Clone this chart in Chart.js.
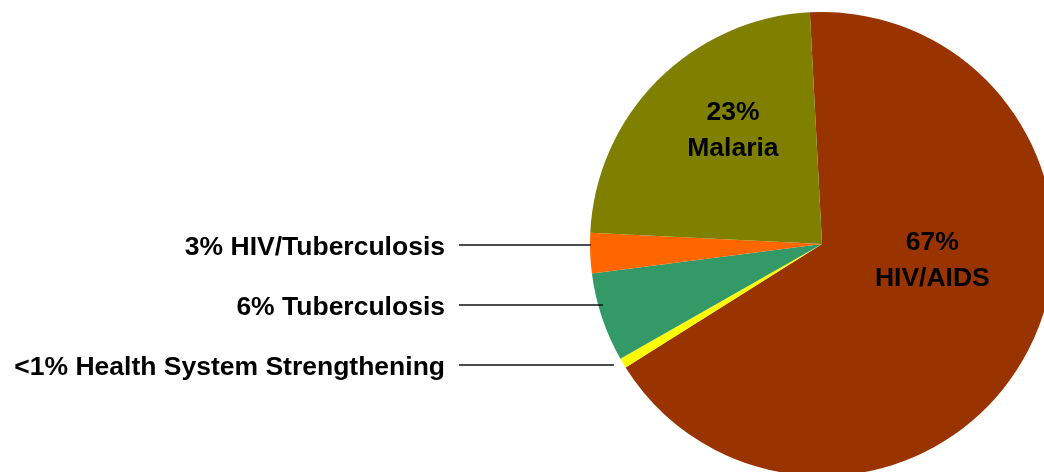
<!DOCTYPE html>
<html><head><meta charset="utf-8">
<script src="https://cdn.jsdelivr.net/npm/chart.js@4"></script>
<style>
html,body{margin:0;padding:0;background:#fff;overflow:hidden;width:1044px;height:472px}
#wrap{position:absolute;left:0;top:0;width:1100px;height:520px}
</style></head>
<body><div id="wrap"><canvas id="c" width="1100" height="520" style="width:1100px;height:520px"></canvas></div>
<script>
// ---- data ----
const categories = ['HIV/AIDS', 'Health System Strengthening', 'Tuberculosis', 'HIV/Tuberculosis', 'Malaria'];
const values = [66.9, 0.7, 6.2, 2.8, 23.4];
const percentLabels = ['67%', '<1%', '6%', '3%', '23%'];
const colors = ['#993300', '#FFFF00', '#339966', '#FF6600', '#808000'];

// ---- label layout (annotation placement, not data) ----
const insideLabels = [ // slice index, fraction along slice, fraction of radius
  {i: 0, f: 0.418, d: 0.48},
  {i: 4, f: 0.59, d: 0.63}
];
const outsideLabels = [ // slice index, row offset (x radius), leader end (x radius)
  {i: 3, row: 0.004, end: 0.996},
  {i: 2, row: 0.263, end: 0.944},
  {i: 1, row: 0.522, end: 0.897}
];
const TEXT_RIGHT = 445, LINE_START = 459;
const FONT = 'bold 26.5px "Liberation Sans", Arial, sans-serif';

const labelPlugin = {
  id: 'labels',
  afterDatasetsDraw(chart) {
    const ctx = chart.ctx;
    const arcs = chart.getDatasetMeta(0).data;
    ctx.save();
    ctx.font = FONT;
    ctx.fillStyle = '#000';
    ctx.textBaseline = 'alphabetic';
    insideLabels.forEach(l => {
      const a = arcs[l.i].getProps(['x', 'y', 'startAngle', 'endAngle', 'outerRadius'], true);
      const ang = a.startAngle + l.f * (a.endAngle - a.startAngle);
      const px = a.x + Math.cos(ang) * a.outerRadius * l.d;
      const py = a.y + Math.sin(ang) * a.outerRadius * l.d;
      ctx.textAlign = 'center';
      ctx.fillText(percentLabels[l.i], px, py - 18 + 9.5);
      ctx.fillText(categories[l.i], px, py + 18 + 9.5);
    });
    outsideLabels.forEach(l => {
      const a = arcs[l.i].getProps(['x', 'y', 'outerRadius'], true);
      const y = Math.round(a.y + a.outerRadius * l.row);
      const xe = a.x - a.outerRadius * l.end;
      ctx.textAlign = 'right';
      ctx.fillText(percentLabels[l.i] + ' ' + categories[l.i], TEXT_RIGHT, y + 9.5);
      ctx.beginPath();
      ctx.strokeStyle = '#111';
      ctx.lineWidth = 1.6;
      ctx.moveTo(LINE_START, y);
      ctx.lineTo(xe, y);
      ctx.stroke();
    });
    ctx.restore();
  }
};

new Chart(document.getElementById('c'), {
  type: 'pie',
  data: {
    labels: categories,
    datasets: [{
      data: values,
      backgroundColor: colors,
      borderWidth: 0
    }]
  },
  options: {
    responsive: false,
    animation: false,
    rotation: -3,
    layout: {padding: {left: 590, top: 12, right: 46, bottom: 44}},
    plugins: {legend: {display: false}, tooltip: {enabled: false}}
  },
  plugins: [labelPlugin]
});
</script>
</body></html>
